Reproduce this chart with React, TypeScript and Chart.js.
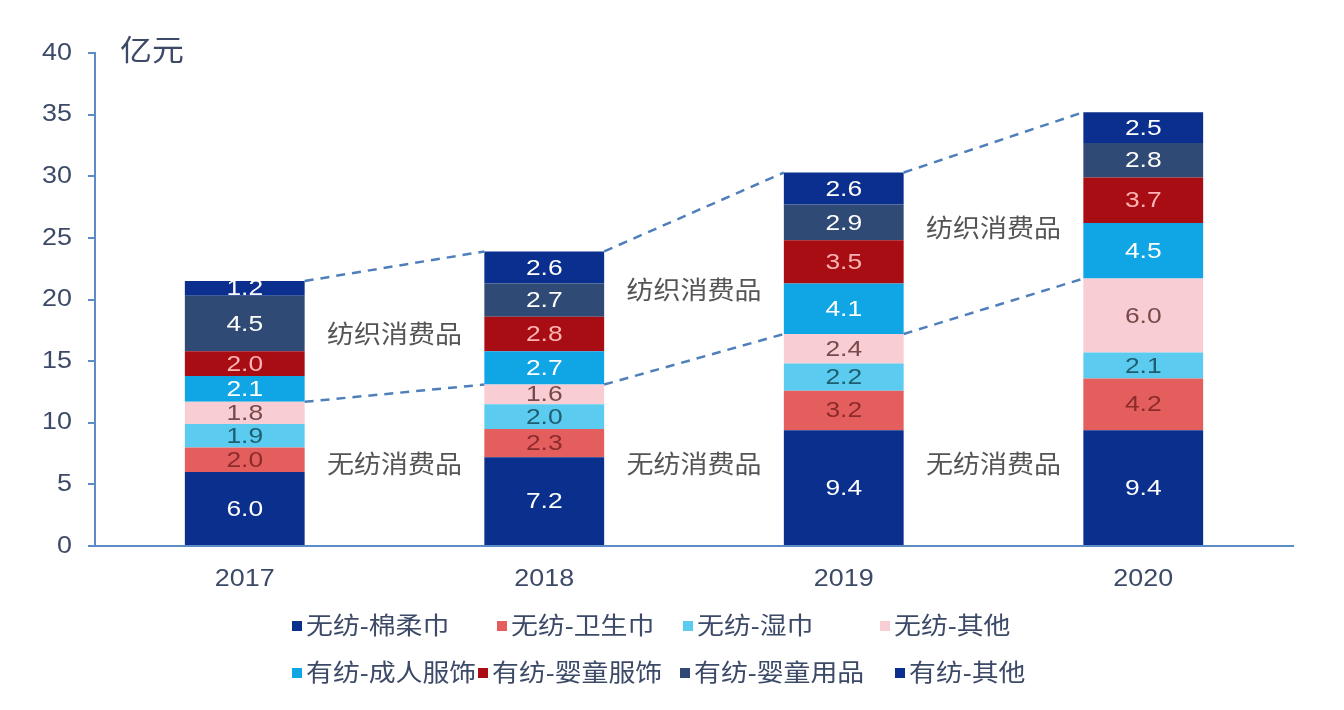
import React, { useEffect, useRef } from "react";
import { Chart, registerables } from "chart.js";

Chart.register(...registerables);

// ---------- data ----------
const years = ["2017", "2018", "2019", "2020"];
const seriesNames = [
  "无纺-棉柔巾",
  "无纺-卫生巾",
  "无纺-湿巾",
  "无纺-其他",
  "有纺-成人服饰",
  "有纺-婴童服饰",
  "有纺-婴童用品",
  "有纺-其他",
];
const wfMianRouJin = [6.0, 7.2, 9.4, 9.4];
const wfWeiShengJin = [2.0, 2.3, 3.2, 4.2];
const wfShiJin = [1.9, 2.0, 2.2, 2.1];
const wfOther = [1.8, 1.6, 2.4, 6.0];
const yfAdultWear = [2.1, 2.7, 4.1, 4.5];
const yfBabyWear = [2.0, 2.8, 3.5, 3.7];
const yfBabyGoods = [4.5, 2.7, 2.9, 2.8];
const yfOther = [1.2, 2.6, 2.6, 2.5];
const seriesValues = [
  wfMianRouJin,
  wfWeiShengJin,
  wfShiJin,
  wfOther,
  yfAdultWear,
  yfBabyWear,
  yfBabyGoods,
  yfOther,
];
const unitLabel = "亿元";
const upperGroupLabel = "纺织消费品";
const lowerGroupLabel = "无纺消费品";
const yTickValues = [0, 5, 10, 15, 20, 25, 30, 35, 40];

// ---------- styles ----------
const barColors = [
  "#0a2f8c",
  "#e55e5e",
  "#5ccbf0",
  "#f8cdd3",
  "#10a6e6",
  "#a80d13",
  "#2f4b75",
  "#0b2f8e",
];
const labelColors = [
  "#ffffff",
  "#8c2b2b",
  "#1d5e70",
  "#7a4848",
  "#ffffff",
  "#ffb4b4",
  "#ffffff",
  "#ffffff",
];
const AXIS_COLOR = "#5b8cc8";
const TEXT_COLOR = "#3c4a68";
const FONT = "'Liberation Sans', 'Noto Sans CJK SC', sans-serif";
const legendRow1X = [292, 497, 683, 880];
const legendRow2X = [292, 478, 680, 895];
const legendRowY = [626, 673];

function drawText(
  ctx: CanvasRenderingContext2D,
  text: string,
  x: number,
  y: number,
  align: CanvasTextAlign,
  sx: number
) {
  ctx.save();
  ctx.translate(x, y);
  ctx.scale(sx, 1);
  ctx.textAlign = align;
  ctx.textBaseline = "middle";
  ctx.fillText(text, 0, 0);
  ctx.restore();
}

const valueLabelPlugin = {
  id: "valueLabels",
  afterDatasetsDraw(chart: any) {
    const ctx = chart.ctx;
    ctx.save();
    ctx.font = `22px ${FONT}`;
    chart.data.datasets.forEach((ds: any, di: number) => {
      const meta = chart.getDatasetMeta(di);
      meta.data.forEach((el: any, i: number) => {
        ctx.fillStyle = labelColors[di];
        drawText(ctx, Number(ds.data[i]).toFixed(1), el.x, (el.y + el.base) / 2 + 1, "center", 1.2);
      });
    });
    ctx.restore();
  },
};

const connectorPlugin = {
  id: "connectors",
  afterDatasetsDraw(chart: any) {
    const ctx = chart.ctx;
    const topMeta = chart.getDatasetMeta(seriesValues.length - 1);
    const midMeta = chart.getDatasetMeta(3);
    const yScale = chart.scales.y;
    ctx.save();
    for (let i = 0; i < years.length - 1; i++) {
      const a = topMeta.data[i];
      const b = topMeta.data[i + 1];
      const ma = midMeta.data[i];
      const mb = midMeta.data[i + 1];
      const xa = a.x + a.width / 2;
      const xb = b.x - b.width / 2;
      ctx.strokeStyle = "#4f7fba";
      ctx.lineWidth = 2.5;
      ctx.setLineDash([9, 7]);
      ctx.beginPath();
      ctx.moveTo(xa, a.y);
      ctx.lineTo(xb, b.y);
      ctx.stroke();
      ctx.beginPath();
      ctx.moveTo(xa, ma.y);
      ctx.lineTo(xb, mb.y);
      ctx.stroke();

      const xm = (xa + xb) / 2;
      const upperMid = (a.y + b.y) / 2;
      const lowerMid = (ma.y + mb.y) / 2;
      ctx.setLineDash([]);
      ctx.fillStyle = "#555555";
      ctx.font = `25px ${FONT}`;
      drawText(ctx, upperGroupLabel, xm, (upperMid + lowerMid) / 2 + 6, "center", 1.08);
      drawText(ctx, lowerGroupLabel, xm, yScale.getPixelForValue(6.5), "center", 1.08);
    }
    ctx.restore();
  },
};

const decorPlugin = {
  id: "decor",
  afterDraw(chart: any) {
    const ctx = chart.ctx;
    const area = chart.chartArea;
    const xScale = chart.scales.x;
    const yScale = chart.scales.y;
    ctx.save();
    ctx.fillStyle = TEXT_COLOR;

    // axis tick labels
    ctx.font = `24px ${FONT}`;
    yTickValues.forEach((v) => {
      drawText(ctx, String(v), area.left - 23, yScale.getPixelForValue(v), "right", 1.12);
    });
    years.forEach((yr, i) => {
      drawText(ctx, yr, xScale.getPixelForValue(i), area.bottom + 33, "center", 1.12);
    });

    // unit label
    ctx.font = `29px ${FONT}`;
    drawText(ctx, unitLabel, area.left + 25, area.top, "left", 1.1);

    // legend
    ctx.font = `24px ${FONT}`;
    const box = 10;
    for (let k = 0; k < seriesNames.length; k++) {
      const row = k < 4 ? 0 : 1;
      const x = row === 0 ? legendRow1X[k] : legendRow2X[k - 4];
      const y = legendRowY[row];
      ctx.fillStyle = barColors[k];
      ctx.fillRect(x, y - box / 2, box, box);
      ctx.fillStyle = TEXT_COLOR;
      drawText(ctx, seriesNames[k], x + box + 4, y + 1, "left", 1.12);
    }
    ctx.restore();
  },
};

export default function App() {
  const ref = useRef<HTMLCanvasElement>(null);

  useEffect(() => {
    document.body.style.margin = "0";
    const canvas = ref.current!;
    const chart = new Chart(canvas, {
      type: "bar",
      data: {
        labels: years,
        datasets: seriesNames.map((name, i) => ({
          label: name,
          data: seriesValues[i],
          backgroundColor: barColors[i],
          borderWidth: 0,
          barPercentage: 0.4,
          categoryPercentage: 1,
        })),
      },
      options: {
        responsive: false,
        animation: false,
        devicePixelRatio: 1,
        layout: { padding: { top: 53, right: 51, left: 0, bottom: 0 } },
        plugins: {
          legend: { display: false },
          tooltip: { enabled: false },
        },
        scales: {
          x: {
            stacked: true,
            grid: { display: false },
            border: { display: true, color: AXIS_COLOR, width: 2 },
            ticks: { display: false },
            afterFit: (s: any) => {
              s.height = 164;
            },
          },
          y: {
            stacked: true,
            min: 0,
            max: 40,
            grid: {
              display: true,
              drawOnChartArea: false,
              drawTicks: true,
              tickLength: 7,
              color: AXIS_COLOR,
              lineWidth: 2,
            },
            border: { display: true, color: AXIS_COLOR, width: 2 },
            ticks: { stepSize: 5, display: false },
            afterFit: (s: any) => {
              s.width = 95;
            },
          },
        },
      },
      plugins: [valueLabelPlugin, connectorPlugin, decorPlugin],
    });
    return () => chart.destroy();
  }, []);

  return (
    <div style={{ width: 1344, height: 710, background: "#ffffff" }}>
      <canvas ref={ref} width={1344} height={710} />
    </div>
  );
}
